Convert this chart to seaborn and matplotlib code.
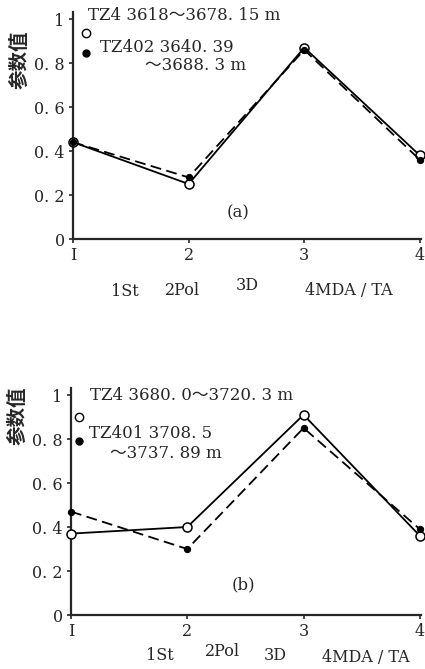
import matplotlib
matplotlib.use('Agg')
import matplotlib.pyplot as plt
import seaborn as sns
import pandas as pd
from matplotlib.lines import Line2D

# data
x_pos = [1, 2, 3, 4]
categories = ['1St', '2Pol', '3D', '4MDA / TA']

a_tz4 = [0.44, 0.25, 0.87, 0.38]
a_tz402 = [0.44, 0.28, 0.86, 0.36]
b_tz4 = [0.37, 0.40, 0.91, 0.36]
b_tz401 = [0.47, 0.30, 0.85, 0.39]

a_labels = ['TZ4 3618～3678. 15 m', 'TZ402 3640. 39', '～3688. 3 m']
b_labels = ['TZ4 3680. 0～3720. 3 m', 'TZ401 3708. 5', '～3737. 89 m']

yticks = [0, 0.2, 0.4, 0.6, 0.8, 1.0]
ytick_labels = ['0', '0. 2', '0. 4', '0. 6', '0. 8', '1']

sns.set_style('ticks')
plt.rcParams['font.family'] = ['DejaVu Serif', 'Noto Sans CJK SC']
plt.rcParams['axes.linewidth'] = 1.6

W, H = 425, 669
fig = plt.figure(figsize=(W / 100, H / 100), dpi=100)


def fx(px):
    return px / W


def fy(py):
    return 1 - py / H


def panel(left_px, bottom_px, s_open, s_fill, lab_y):
    ax = fig.add_axes([fx(left_px), fy(bottom_px), fx(421 - left_px), 226.6 / H])
    df = pd.DataFrame({'x': x_pos, 'open': s_open, 'fill': s_fill})
    sns.lineplot(data=df, x='x', y='open', ax=ax, color='black', lw=1.3,
                 marker='o', markersize=6.5, markerfacecolor='white',
                 markeredgecolor='black', markeredgewidth=1.1, clip_on=False, zorder=3)
    sns.lineplot(data=df, x='x', y='fill', ax=ax, color='black', lw=1.3,
                 linestyle=(0, (6, 3)), marker='o', markersize=4.5,
                 markerfacecolor='black', markeredgecolor='black', clip_on=False, zorder=4)
    ax.set_xlim(1, 4.01)
    ax.set_ylim(0, 1.03)
    ax.set_xticks(x_pos)
    ax.set_xticklabels(['I', '2', '3', '4'], fontsize=11.5)
    ax.set_yticks(yticks)
    ax.set_yticklabels(ytick_labels, fontsize=11.5)
    ax.tick_params(length=3, width=1.2, pad=3)
    ax.set_xlabel('')
    ax.set_ylabel('参数值', fontsize=14, fontweight='bold', family=['Noto Sans CJK SC'])
    ax.yaxis.set_label_coords(-0.125, lab_y)
    sns.despine(ax=ax)
    return ax


ax_a = panel(73, 239, a_tz4, a_tz402, 0.79)
ax_b = panel(71, 615, b_tz4, b_tz401, 0.88)

# legend markers (marker only)
h_open = Line2D([], [], color='black', marker='o', markersize=6, markerfacecolor='white', linestyle='none')
h_fill = Line2D([], [], color='black', marker='o', markersize=5, markerfacecolor='black', linestyle='none')
fig.legend([h_open, h_fill], ['', ''], loc='upper left', frameon=False, handlelength=0.6,
           fontsize=10, labelspacing=0.4, borderpad=0, borderaxespad=0,
           bbox_to_anchor=(fx(82), fy(27)))
fig.legend([h_open, h_fill], ['', ''], loc='upper left', frameon=False, handlelength=0.6,
           fontsize=10, labelspacing=0.7, borderpad=0, borderaxespad=0,
           bbox_to_anchor=(fx(75), fy(411)))

# legend texts
fs = 12
fig.text(fx(88), fy(15), a_labels[0], fontsize=fs, va='center')
fig.text(fx(100), fy(47), a_labels[1], fontsize=fs, va='center')
fig.text(fx(145), fy(66), a_labels[2], fontsize=fs, va='center')
fig.text(fx(90), fy(395), b_labels[0], fontsize=fs, va='center')
fig.text(fx(89), fy(433), b_labels[1], fontsize=fs, va='center')
fig.text(fx(110), fy(454), b_labels[2], fontsize=fs, va='center')

fig.text(fx(238), fy(213), '(a)', fontsize=12, ha='center', va='center')
fig.text(fx(243), fy(585), '(b)', fontsize=12, ha='center', va='center')

# category names under axes
a_cat_pos = [(125, 292), (183, 290), (247, 285), (349, 290)]
b_cat_pos = [(160, 655), (222, 652), (275, 655), (366, 657)]
for name, (px, py) in zip(categories, a_cat_pos):
    fig.text(fx(px), fy(py), name, fontsize=11.5, ha='center', va='center')
for name, (px, py) in zip(categories, b_cat_pos):
    fig.text(fx(px), fy(py), name, fontsize=11.5, ha='center', va='center')

fig.savefig('out.png', dpi=100)
